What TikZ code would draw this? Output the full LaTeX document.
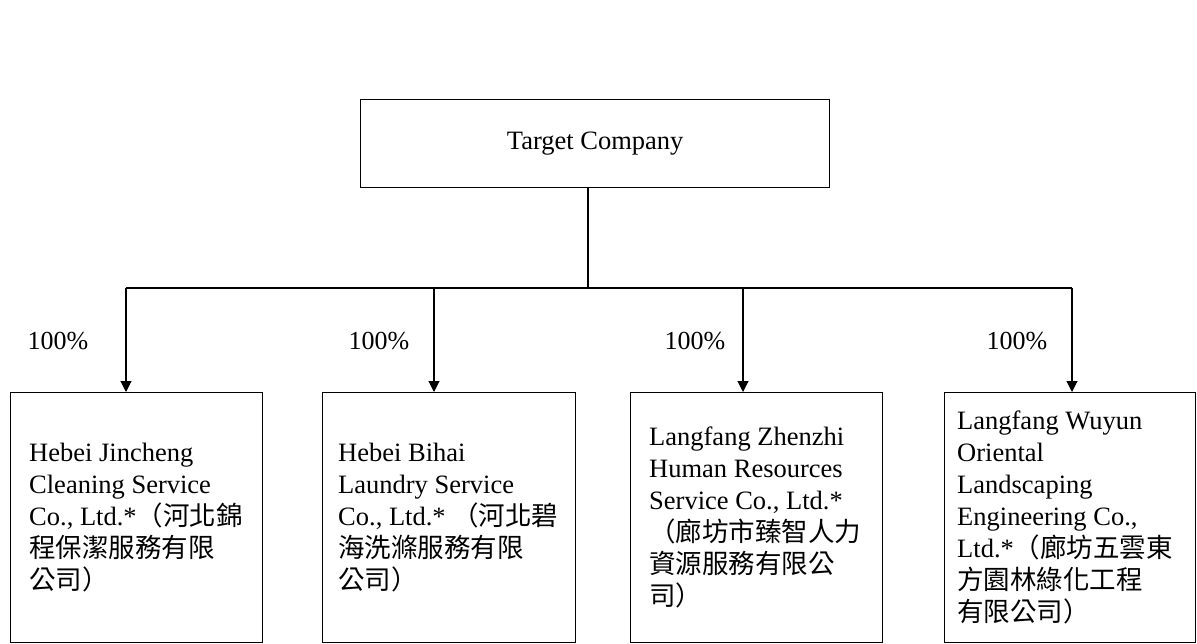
\documentclass[tikz,border=0pt]{standalone}
\usepackage{fontspec}
\setmainfont{Liberation Serif}
\newfontfamily\cjk{Noto Sans CJK TC}
\usetikzlibrary{arrows.meta}
\begin{document}
\begin{tikzpicture}[x=1pt,y=-1pt,
  box/.style={draw,line width=1.4pt,inner sep=0pt,anchor=north west},
  txt/.style={anchor=west,align=left,inner sep=0pt,font=\fontsize{26.5}{32}\selectfont},
  pct/.style={inner sep=0pt,font=\fontsize{26}{30}\selectfont},
  conn/.style={line width=1.1pt},
  arr/.style={line width=1.1pt,-{Triangle[length=11pt,width=11pt]}}]
\useasboundingbox (0,0) rectangle (1197,644);
% target
\node[box,minimum width=469pt,minimum height=88pt] (t) at (360,99) {};
\node[txt,anchor=center] (tt) at (t.center) {Target Company};
% boxes
\node[box,minimum width=252pt,minimum height=250pt] (b1) at (10,392) {};
\node[box,minimum width=253pt,minimum height=250pt] (b2) at (322,392) {};
\node[box,minimum width=252pt,minimum height=250pt] (b3) at (630,392) {};
\node[box,minimum width=251pt,minimum height=250pt] (b4) at (944,392) {};
\node[txt] (t1) at ([xshift=19pt]b1.west) {Hebei Jincheng\\Cleaning Service\\Co., Ltd.*{\cjk（河北錦}\\{\cjk 程保潔服務有限}\\{\cjk 公司）}};
\node[txt] (t2) at ([xshift=16pt]b2.west) {Hebei Bihai\\Laundry Service\\Co., Ltd.* {\cjk（河北碧}\\{\cjk 海洗滌服務有限}\\{\cjk 公司）}};
\node[txt] (t3) at ([xshift=19pt]b3.west) {Langfang Zhenzhi\\Human Resources\\Service Co., Ltd.*\\{\cjk（廊坊市臻智人力}\\{\cjk 資源服務有限公}\\{\cjk 司）}};
\node[txt] (t4) at ([xshift=13pt]b4.west) {Langfang Wuyun\\Oriental\\Landscaping\\Engineering Co.,\\Ltd.*{\cjk（廊坊五雲東}\\{\cjk 方園林綠化工程}\\{\cjk 有限公司）}};
% connectors
\coordinate (jm) at (588,288);
\coordinate (j1) at (126,288);
\coordinate (j2) at (434,288);
\coordinate (j3) at (743,288);
\coordinate (j4) at (1072,288);
\draw[conn] (t.south -| jm) -- (jm);
\draw[line width=1.4pt] (j1) -- (j4);
\draw[arr] (j1) -- (j1 |- b1.north);
\draw[arr] (j2) -- (j2 |- b2.north);
\draw[arr] (j3) -- (j3 |- b3.north);
\draw[arr] (j4) -- (j4 |- b4.north);
% percentages
\node[pct] (p1) at (58,341) {100\%};
\node[pct] (p2) at (379,341) {100\%};
\node[pct] (p3) at (695,341) {100\%};
\node[pct] (p4) at (1017,341) {100\%};
\end{tikzpicture}
\end{document}
